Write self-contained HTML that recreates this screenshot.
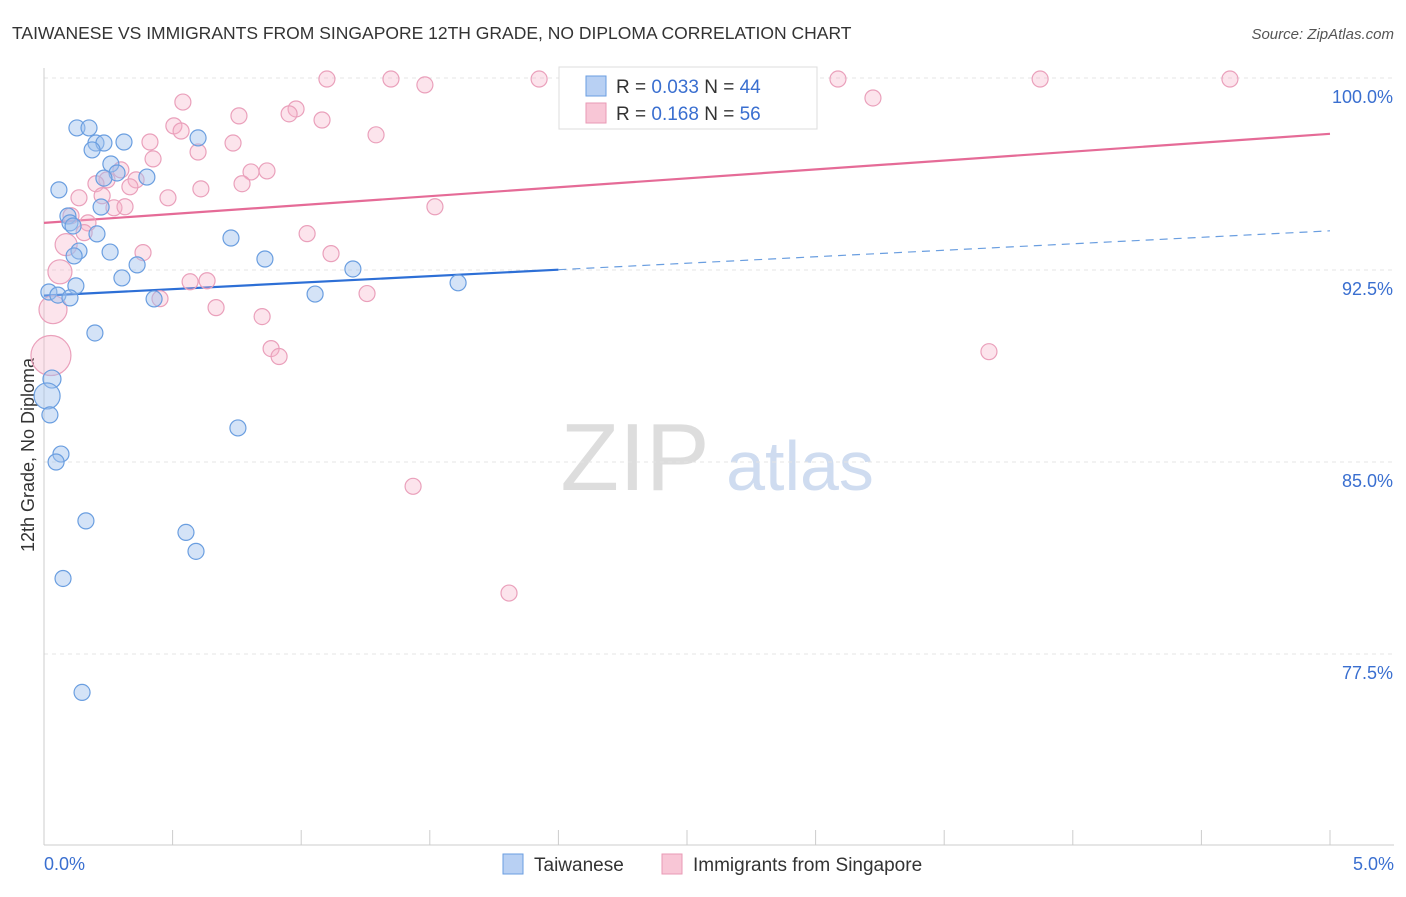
<!DOCTYPE html>
<html><head><meta charset="utf-8"><style>
body{margin:0;background:#fff;font-family:"Liberation Sans",sans-serif;}
svg text{font-family:"Liberation Sans",sans-serif;}
</style></head><body>
<svg id="c" width="1406" height="892">
<text x="12" y="39" font-size="17.5" fill="#333">TAIWANESE VS IMMIGRANTS FROM SINGAPORE 12TH GRADE, NO DIPLOMA CORRELATION CHART</text>
<text x="1394" y="39" font-size="15" fill="#555" text-anchor="end" font-style="italic">Source: ZipAtlas.com</text>
<text x="34" y="455" font-size="18" fill="#333" text-anchor="middle" transform="rotate(-90 34 455)">12th Grade, No Diploma</text>
<g><text x="635" y="490" font-size="96" fill="#ddd" font-family="Liberation Serif" text-anchor="middle">ZIP</text><text x="800" y="490" font-size="70" fill="#cfdcf0" text-anchor="middle">atlas</text></g>
<g id="grid"></g><g id="axes"></g><g id="lines"></g><g id="pts"></g>
<g>
<rect x="559" y="67" width="258" height="62" fill="#fff" stroke="#ddd"/>
<rect x="586" y="76" width="20" height="20" fill="#b8d0f3" stroke="#6a9ee0"/>
<text x="616" y="93" font-size="19" fill="#333">R = <tspan fill="#3a6fd0">0.033</tspan>   N = <tspan fill="#3a6fd0">44</tspan></text>
<rect x="586" y="103" width="20" height="20" fill="#f8c6d6" stroke="#e99ab5"/>
<text x="616" y="120" font-size="19" fill="#333">R =  <tspan fill="#3a6fd0">0.168</tspan>   N = <tspan fill="#3a6fd0">56</tspan></text>
</g>
<g>
<rect x="503" y="854" width="20" height="20" fill="#b8d0f3" stroke="#6a9ee0"/>
<text x="534" y="871" font-size="19" fill="#333">Taiwanese</text>
<rect x="662" y="854" width="20" height="20" fill="#f8c6d6" stroke="#e99ab5"/>
<text x="693" y="871" font-size="19" fill="#333">Immigrants from Singapore</text>
</g>
</svg>
<script>
const yTicks=[100,92.5,85,77.5];
const yTickLabels=["100.0%","92.5%","85.0%","77.5%"];
const blueX=[0.128,0.175,0.311,0.202,0.233,0.187,0.599,0.26,0.284,0.40,0.233,0.058,0.222,0.093,0.101,0.113,0.206,0.727,0.136,0.257,0.117,0.859,0.362,1.201,0.303,1.61,0.124,0.019,0.054,1.054,0.101,0.428,0.198,0.031,0.012,0.023,0.754,0.066,0.047,0.163,0.552,0.591,0.074,0.148];
const blueY=[98.05,98.05,97.5,97.46,97.46,97.19,97.66,96.64,96.29,96.13,96.09,95.63,94.96,94.61,94.34,94.22,93.91,93.75,93.24,93.2,93.05,92.93,92.70,92.54,92.19,92.0,91.88,91.64,91.52,91.56,91.41,91.37,90.04,88.24,87.58,86.84,86.33,85.31,85.0,82.7,82.25,81.51,80.45,76.0];
const blueR=[8,8,8,8,8,8,8,8,8,8,8,8,8,8,8,8,8,8,8,8,8,8,8,8,8,8,8,8,8,8,8,8,8,9,13,8,8,8,8,8,8,8,8,8];
const pinkX=[1.100,1.349,1.925,3.087,3.873,4.611,1.481,0.540,3.223,0.980,0.953,0.758,1.081,0.505,0.533,1.291,0.412,0.735,0.599,0.424,0.867,0.805,0.299,0.245,0.358,0.202,0.334,0.610,0.770,0.226,0.136,0.482,0.272,0.315,1.520,0.105,0.171,0.156,1.023,0.086,0.385,1.116,0.062,0.568,0.634,1.256,0.451,0.669,0.035,0.848,0.883,0.914,3.674,0.027,1.435,1.808];
const pinkY=[99.96,99.96,99.96,99.96,99.96,99.96,99.73,99.06,99.22,98.79,98.6,98.52,98.36,98.13,97.93,97.78,97.5,97.46,97.11,96.84,96.37,96.33,96.41,96.02,96.02,95.87,95.75,95.67,95.87,95.40,95.32,95.32,94.93,94.97,94.97,94.62,94.34,93.96,93.92,93.49,93.18,93.14,92.43,92.04,92.08,91.58,91.38,91.03,90.95,90.68,89.43,89.12,89.31,89.16,84.05,79.88];
const pinkR=[8,8,8,8,8,8,8,8,8,8,8,8,8,8,8,8,8,8,8,8,8,8,8,8,8,8,8,8,8,8,8,8,8,8,8,8,8,8,8,11,8,8,12,8,8,8,8,8,14,8,8,8,8,20,8,8];
const blueTrend=[91.5,0.506]; // intercept, slope per %
const pinkTrend=[94.34,0.696];
const X=v=>44+v/5*1286, Y=v=>78+(100-v)/7.5*192;
const ns="http://www.w3.org/2000/svg";
function mk(p,t,a){const e=document.createElementNS(ns,t);for(const k in a)e.setAttribute(k,a[k]);p.appendChild(e);return e;}
const g=document.getElementById('grid'),ax=document.getElementById('axes'),ln=document.getElementById('lines'),pt=document.getElementById('pts');
yTicks.forEach((t,i)=>{
 const l=mk(g,'line',{x1:44,x2:1394,y1:Y(t),y2:Y(t),stroke:'#e4e4e4','stroke-dasharray':'4,4'});
 
 
 const tx=mk(g,'text',{x:1393,y:Y(t)+25,'font-size':18,fill:'#3a6fd0','text-anchor':'end'});tx.textContent=yTickLabels[i];
 
 
});
mk(ax,'line',{x1:44,x2:44,y1:68,y2:845,stroke:'#ccc'});
mk(ax,'line',{x1:44,x2:1394,y1:845,y2:845,stroke:'#ccc'});
for(let k=0;k<=10;k++){const t=mk(ax,'line',{x1:X(k*0.5),x2:X(k*0.5),y1:830,y2:845,stroke:'#ccc'});
 
 }
let t0=mk(ax,'text',{x:44,y:870,'font-size':18,fill:'#3a6fd0'});t0.textContent="0.0%";


let t1=mk(ax,'text',{x:1394,y:870,'font-size':18,fill:'#3a6fd0','text-anchor':'end'});t1.textContent="5.0%";


function dot(x,y,r,f,s,n){const c=mk(pt,'circle',{cx:X(x),cy:Y(y),r:r,fill:f,stroke:s,'stroke-width':1.2});
 
 }
pinkX.forEach((x,i)=>dot(x,pinkY[i],pinkR[i],'rgba(246,178,200,0.35)','#eaa0bb','pink-point'));
blueX.forEach((x,i)=>dot(x,blueY[i],blueR[i],'rgba(160,192,238,0.45)','#6a9ee0','blue-point'));
const bt=(x)=>blueTrend[0]+blueTrend[1]*x, pk=(x)=>pinkTrend[0]+pinkTrend[1]*x;
let a=mk(ln,'line',{x1:X(0),y1:Y(bt(0)),x2:X(2),y2:Y(bt(2)),stroke:'#2d6fd6','stroke-width':2.2});


let b=mk(ln,'line',{x1:X(2),y1:Y(bt(2)),x2:X(5),y2:Y(bt(5)),stroke:'#6a9ee0','stroke-width':1.2,'stroke-dasharray':'8,6'});


let c=mk(ln,'line',{x1:X(0),y1:Y(pk(0)),x2:X(5),y2:Y(pk(5)),stroke:'#e56b97','stroke-width':2.2});


</script>
</body></html>
